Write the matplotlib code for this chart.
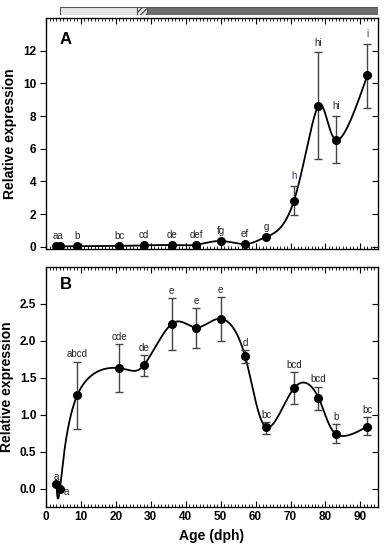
import numpy as np
import matplotlib.pyplot as plt
from matplotlib.patches import Rectangle
from matplotlib.ticker import MultipleLocator

plt.rcParams['font.family'] = ['Liberation Sans', 'DejaVu Sans']

# Edad (dph)
edad = [3, 4, 9, 21, 28, 36, 43, 50, 57, 63, 71, 78, 83, 92]

# Panel A: expresión relativa y extremos de las barras de error
expr_a = [0.02, 0.02, 0.03, 0.05, 0.08, 0.10, 0.12, 0.35, 0.16, 0.60, 2.83, 8.64, 6.55, 10.50]
inf_a = [0.02, 0.02, 0.03, 0.05, 0.08, 0.10, 0.12, 0.35, 0.16, 0.60, 1.93, 5.37, 5.12, 8.50]
sup_a = [0.02, 0.02, 0.03, 0.05, 0.08, 0.10, 0.12, 0.35, 0.16, 0.60, 3.70, 11.90, 8.00, 12.44]
letras_a = ['aa', None, 'b', 'bc', 'cd', 'de', 'def', 'fg', 'ef', 'g', 'h', 'hi', 'hi', 'i']

# Panel B
expr_b = [0.06, 0.00, 1.27, 1.63, 1.67, 2.23, 2.18, 2.30, 1.79, 0.83, 1.36, 1.23, 0.74, 0.84]
inf_b = [0.06, 0.00, 0.81, 1.31, 1.52, 1.87, 1.90, 2.00, 1.70, 0.74, 1.14, 1.06, 0.62, 0.72]
sup_b = [0.06, 0.00, 1.72, 1.96, 1.81, 2.58, 2.44, 2.59, 1.87, 0.90, 1.58, 1.38, 0.87, 0.97]
letras_b = ['a', 'a', 'abcd', 'cde', 'de', 'e', 'e', 'e', 'd', 'bc', 'bcd', 'bcd', 'b', 'bc']

# Barra de etapas (inicio, fin, color, trama)
etapas = [(4, 26, '#e6e6e6', None), (26, 29, '#e6e6e6', '//////'), (29, 95, '#6e6e6e', None)]


def spline_natural(t, y, ts):
    t = np.asarray(t, float)
    y = np.asarray(y, float)
    h = np.diff(t)
    m = len(t)
    A = np.zeros((m, m))
    r = np.zeros(m)
    A[0, 0] = A[-1, -1] = 1
    for i in range(1, m - 1):
        A[i, i - 1] = h[i - 1]
        A[i, i] = 2 * (h[i - 1] + h[i])
        A[i, i + 1] = h[i]
        r[i] = 6 * ((y[i + 1] - y[i]) / h[i] - (y[i] - y[i - 1]) / h[i - 1])
    M = np.linalg.solve(A, r)
    k = np.clip(np.searchsorted(t, ts) - 1, 0, m - 2)
    t1 = t[k + 1] - ts
    t0 = ts - t[k]
    return (M[k] * t1**3 + M[k + 1] * t0**3) / (6 * h[k]) \
        + (y[k] / h[k] - M[k] * h[k] / 6) * t1 \
        + (y[k + 1] / h[k] - M[k + 1] * h[k] / 6) * t0


def curva(x, y):
    # spline paramétrico (parámetro = índice del punto)
    t = np.arange(len(x))
    ts = np.linspace(0, len(x) - 1, 2000)
    return spline_natural(t, x, ts), spline_natural(t, y, ts)


def dibujar(ax, y, lo, hi):
    xs, ys = curva(edad, y)
    ax.plot(xs, ys, color='black', lw=1.3, zorder=2)
    y = np.array(y)
    err = [y - np.array(lo), np.array(hi) - y]
    ax.errorbar(edad, y, yerr=err, fmt='o', color='black', ms=5.5,
                ecolor='#444444', elinewidth=1.0, capsize=3, capthick=1.0, zorder=3)


def estilo(ax, etiquetas_x):
    ax.set_xlim(0, 95)
    ax.xaxis.set_major_locator(MultipleLocator(10))
    ax.xaxis.set_minor_locator(MultipleLocator(1))
    ax.tick_params(axis='x', which='both', direction='in', top=True, bottom=True,
                   labelbottom=etiquetas_x)
    ax.tick_params(axis='x', which='major', length=4, width=0.8)
    ax.tick_params(axis='x', which='minor', length=2, width=0.6)
    ax.tick_params(axis='y', which='major', direction='out', length=4, width=0.8)
    ax.tick_params(axis='both', labelsize=8.5, pad=3)
    for lab in ax.get_xticklabels() + ax.get_yticklabels():
        lab.set_fontweight('bold')
    ax.set_ylabel('Relative expression', fontsize=10, fontweight='bold')
    for s in ax.spines.values():
        s.set_linewidth(0.9)
    ax2 = ax.twinx()
    ax2.set_ylim(ax.get_ylim())
    ax2.set_yticks(ax.get_yticks())
    ax2.set_ylim(ax.get_ylim())
    ax2.tick_params(axis='y', direction='in', length=4, labelright=False)


fig = plt.figure(figsize=(3.85, 5.5), dpi=100)

# Barra de etapas
axb = fig.add_axes([0.1195, 0.9727, 0.862, 0.0145])
axb.set_xlim(0, 95)
axb.set_ylim(0, 1)
axb.axis('off')
for ini, fin, col, trama in etapas:
    axb.add_patch(Rectangle((ini, 0), fin - ini, 1, facecolor=col, edgecolor='#555555',
                            hatch=trama, lw=0.8))

# Panel A
ax1 = fig.add_axes([0.1195, 0.547, 0.862, 0.42])
dibujar(ax1, expr_a, inf_a, sup_a)
ax1.set_ylim(-0.15, 14)
ax1.set_yticks([0, 2, 4, 6, 8, 10, 12])
ax1.text(4, 12.4, 'A', fontsize=12, fontweight='bold')
for xi, hi_, lab in zip(edad, sup_a, letras_a):
    if lab is None:
        continue
    xpos = 3.5 if lab == 'aa' else xi
    col = '#1f3c78' if lab in ('h', 'i') else '#222222'
    ax1.text(xpos, hi_ + 0.3, lab, ha='center', va='bottom', fontsize=7, color=col)
estilo(ax1, False)

# Panel B
ax2 = fig.add_axes([0.1195, 0.0782, 0.862, 0.4363])
dibujar(ax2, expr_b, inf_b, sup_b)
ax2.set_ylim(-0.25, 3.0)
ax2.set_yticks([0.0, 0.5, 1.0, 1.5, 2.0, 2.5])
ax2.yaxis.set_major_formatter(plt.FormatStrFormatter('%.1f'))
ax2.text(4, 2.7, 'B', fontsize=12, fontweight='bold')
for i, (xi, hi_, lab) in enumerate(zip(edad, sup_b, letras_b)):
    if i == 1:
        ax2.text(xi + 1.0, hi_ - 0.12, lab, ha='left', va='bottom', fontsize=7, color='#222222')
    else:
        ax2.text(xi, hi_ + 0.03, lab, ha='center', va='bottom', fontsize=7, color='#222222')
estilo(ax2, True)
ax2.set_xlabel('Age (dph)', fontsize=10, fontweight='bold')

fig.savefig('out.png', dpi=100)
